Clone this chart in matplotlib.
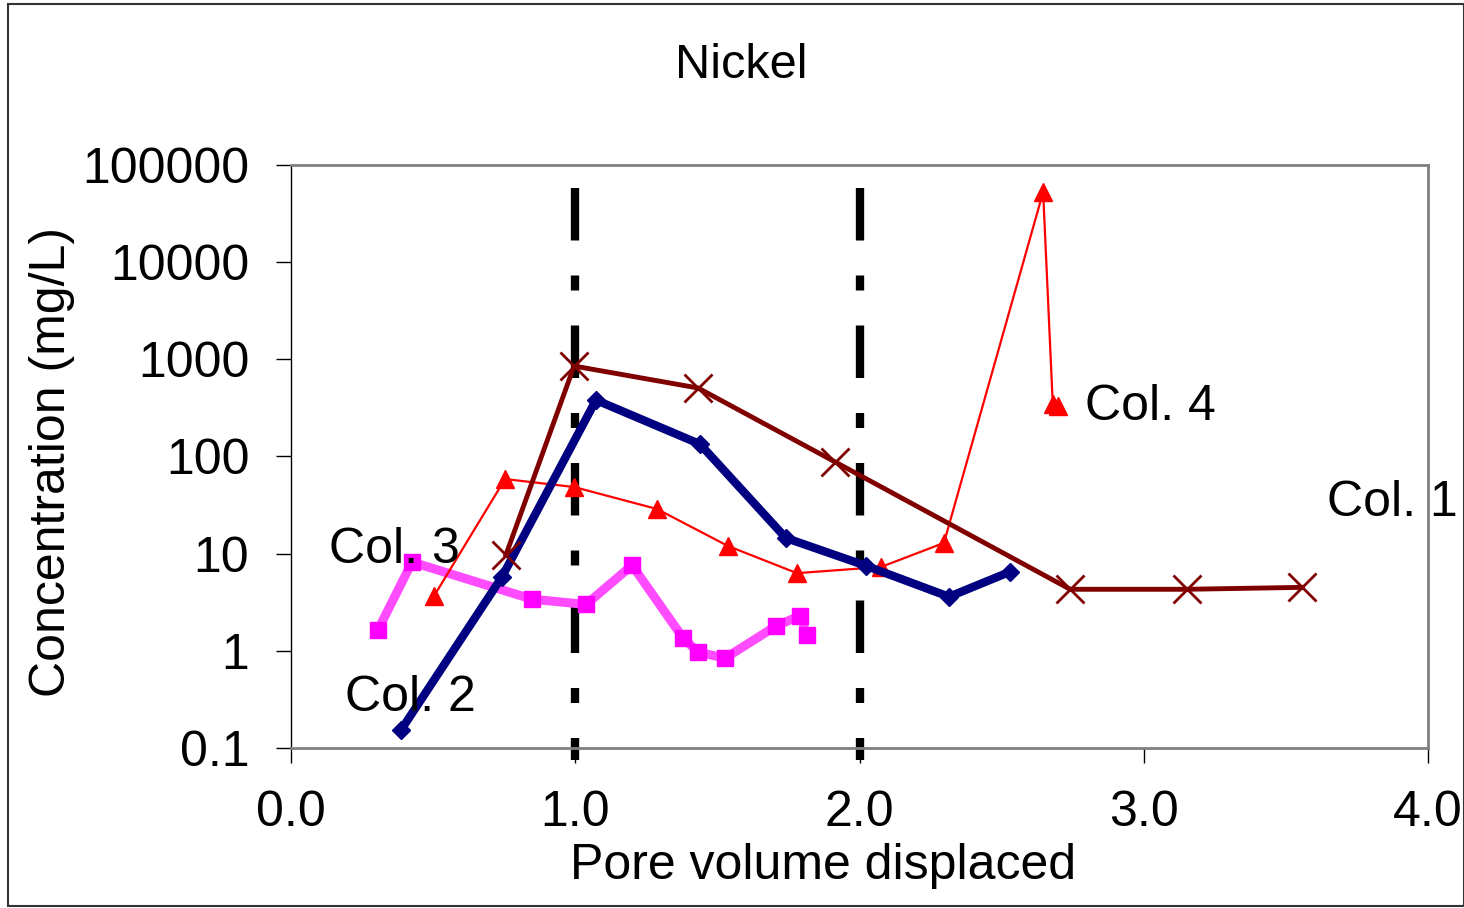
import matplotlib
matplotlib.use("Agg")
import matplotlib.pyplot as plt
from matplotlib.patches import Rectangle
from matplotlib.ticker import FixedLocator, FuncFormatter, NullLocator

plt.rcParams['font.family'] = ['Liberation Sans', 'DejaVu Sans']

# Col. 1 (dark red, x markers)
col1_x = [0.756, 0.996, 1.432, 1.914, 2.741, 3.152, 3.557]
col1_y = [9.7, 853, 507, 88, 4.3, 4.3, 4.5]

# Col. 2 (navy, diamonds)
col2_x = [0.387, 0.742, 1.073, 1.439, 1.741, 2.023, 2.315, 2.529]
col2_y = [0.153, 5.75, 381, 134, 14.5, 7.5, 3.6, 6.5]

# Col. 3 (magenta, squares)
col3_x = [0.306, 0.426, 0.848, 1.038, 1.200, 1.379, 1.432, 1.527, 1.706, 1.791, 1.815]
col3_y = [1.64, 8.2, 3.4, 3.0, 7.6, 1.36, 0.97, 0.84, 1.80, 2.3, 1.46]

# Col. 4 (red, triangles)
col4_x = [0.503, 0.753, 0.996, 1.288, 1.537, 1.780, 2.076, 2.297, 2.646, 2.68, 2.70]
col4_y = [3.66, 58.6, 48.5, 28.8, 12.0, 6.3, 7.3, 12.9, 52700, 345, 330]

# reference lines (pore volumes)
ref_x = [1.0, 2.0]

yticks = [0.1, 1, 10, 100, 1000, 10000, 100000]
xticks = [0.0, 1.0, 2.0, 3.0, 4.0]

labels = ["Col. 1", "Col. 2", "Col. 3", "Col. 4"]
label_pos = [(3.645, 33), (0.19, 0.33), (0.135, 10.9), (2.795, 323)]

FS = 36

fig = plt.figure(figsize=(14.64, 9.08), dpi=100)
ax = fig.add_axes([291 / 1464, 1 - 748 / 908, 1137 / 1464, 583 / 908])
ax.set_yscale('log')
ax.set_xlim(0, 4)
ax.set_ylim(0.1, 100000)

# dash-dot reference lines, drawn top-down so the pattern starts at the top
for xv in ref_x:
    ax.plot([xv, xv], [58000, 0.075], color='black', lw=6,
            dashes=(6.3, 4.2, 1.8, 4.2), solid_capstyle='butt',
            dash_capstyle='butt', clip_on=False, zorder=1)

ax.plot(col3_x, col3_y, color='#ff4cff', lw=6.5, marker='s', ms=11,
        mfc='#ff00ff', mec='#ff00ff', zorder=2)
ax.plot(col4_x, col4_y, color='#ff0000', lw=1.6, marker='^', ms=13,
        mfc='#ff0000', mec='#ff0000', zorder=3)
ax.plot(col2_x, col2_y, color='#000080', lw=6, marker='D', ms=9,
        mfc='#000080', mec='#000080', zorder=4)
ax.plot(col1_x, col1_y, color='#800000', lw=3.5, marker='x', ms=20,
        mew=2, mec='#800000', zorder=5)

for txt, (tx, ty) in zip(labels, label_pos):
    ax.text(tx, ty, txt, fontsize=FS, ha='left', va='center', zorder=6)

ax.yaxis.set_major_locator(FixedLocator(yticks))
ax.yaxis.set_minor_locator(NullLocator())
ax.yaxis.set_major_formatter(FuncFormatter(lambda v, p: '{:g}'.format(v)))
ax.xaxis.set_major_locator(FixedLocator(xticks))
ax.xaxis.set_major_formatter(FuncFormatter(lambda v, p: '%.1f' % v))
ax.tick_params(axis='both', direction='out', length=11, width=1,
               labelsize=FS, pad=19)

for side in ['top', 'right', 'bottom']:
    ax.spines[side].set_color('#808080')
    ax.spines[side].set_linewidth(2)
ax.spines['left'].set_color('black')
ax.spines['left'].set_linewidth(1)

ax.set_xlabel('Pore volume displaced', fontsize=FS)
ax.xaxis.set_label_coords(0.468, -0.163)
ax.set_ylabel('Concentration (mg/L)', fontsize=FS)
ax.yaxis.set_label_coords(-0.19, 0.49)

fig.text(741 / 1464, 1 - 65 / 908, 'Nickel', fontsize=35, ha='center', va='center')

fig.patches.append(Rectangle((8 / 1464, 2 / 908), 1 - 8 / 1464, 1 - 6 / 908,
                             transform=fig.transFigure, fill=False,
                             edgecolor='#333333', lw=1.5))

fig.savefig('out.png', dpi=100)
